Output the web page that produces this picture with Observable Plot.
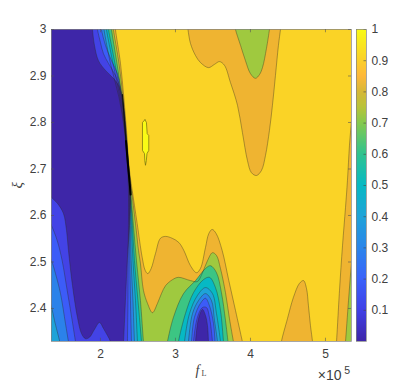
<!DOCTYPE html>
<html><head><meta charset="utf-8">
<script src="https://cdn.jsdelivr.net/npm/d3@7"></script>
<script src="https://cdn.jsdelivr.net/npm/@observablehq/plot@0.6"></script>
<style>
html,body{margin:0;padding:0;background:#fff}
#wrap{position:relative;width:418px;height:383px;overflow:hidden}
#wrap svg{position:absolute;top:0;background:transparent}
</style></head><body><div id="wrap"></div>
<script>
// Contour boundaries, as [fL (×10^5), xi]
const lt90Front=[[2.197,3.01],[2.2,3],[2.267,2.927],[2.311,2.854],[2.347,2.783],[2.377,2.712],[2.409,2.669],[2.423,2.654],[2.489,2.583],[2.556,2.51],[2.596,2.482],[2.631,2.475],[2.676,2.486],[2.733,2.518],[2.8,2.551],[2.867,2.555],[2.956,2.551],[3.044,2.542],[3.111,2.525],[3.2,2.492],[3.28,2.477],[3.333,2.486],[3.4,2.531],[3.444,2.561],[3.489,2.57],[3.543,2.561],[3.622,2.525],[3.711,2.46],[3.8,2.396],[3.889,2.331],[3.907,2.318]];
const lt80Front=[[2.168,3.01],[2.173,3],[2.247,2.927],[2.3,2.854],[2.34,2.783],[2.373,2.712],[2.4,2.669],[2.413,2.654],[2.467,2.583],[2.507,2.525],[2.533,2.497],[2.573,2.439],[2.627,2.411],[2.693,2.391],[2.76,2.411],[2.813,2.432],[2.867,2.449],[2.96,2.462],[3.04,2.467],[3.2,2.46],[3.293,2.458],[3.36,2.477],[3.427,2.503],[3.493,2.52],[3.547,2.514],[3.6,2.486],[3.667,2.434],[3.72,2.378],[3.773,2.329],[3.787,2.318]];
const lt70Front=[[2.14,3.01],[2.147,3],[2.22,2.927],[2.287,2.854],[2.333,2.783],[2.369,2.712],[2.393,2.669],[2.407,2.643],[2.44,2.578],[2.48,2.503],[2.533,2.417],[2.573,2.329],[2.58,2.318]];
const lt60Front=[[2.1,3.01],[2.107,3],[2.193,2.927],[2.273,2.854],[2.329,2.783],[2.367,2.712],[2.391,2.669],[2.4,2.643],[2.427,2.578],[2.453,2.503],[2.5,2.417],[2.547,2.329],[2.552,2.318]];
const lt50Front=[[2.073,3.01],[2.08,3],[2.167,2.927],[2.26,2.854],[2.324,2.783],[2.363,2.712],[2.387,2.669],[2.396,2.643],[2.413,2.578],[2.433,2.503],[2.467,2.417],[2.493,2.329],[2.498,2.318]];
const lt40Front=[[2.04,3.01],[2.047,3],[2.133,2.927],[2.247,2.854],[2.32,2.783],[2.36,2.712],[2.383,2.669],[2.392,2.643],[2.4,2.578],[2.409,2.503],[2.433,2.417],[2.453,2.329],[2.457,2.318]];
const lt30Front=[[2.007,3.01],[2.013,3],[2.067,2.966],[2.147,2.933],[2.227,2.905],[2.267,2.875],[2.307,2.837],[2.34,2.772],[2.367,2.708],[2.383,2.654],[2.387,2.578],[2.391,2.503],[2.4,2.417],[2.413,2.329],[2.415,2.318]];
const lt20Front=[[1.955,3.01],[1.96,3],[2,2.972],[2.04,2.948],[2.107,2.927],[2.2,2.901],[2.26,2.875],[2.3,2.837],[2.333,2.772],[2.36,2.708],[2.373,2.654],[2.373,2.578],[2.369,2.503],[2.367,2.417],[2.36,2.329],[2.36,2.318]];
const lt10Front=[[1.887,3.01],[1.893,3],[1.92,2.966],[1.973,2.933],[2.067,2.912],[2.173,2.895],[2.24,2.88],[2.28,2.858],[2.32,2.815],[2.353,2.751],[2.38,2.697],[2.4,2.643],[2.387,2.578],[2.36,2.51],[2.333,2.417],[2.307,2.329],[2.3,2.318]];
const mergedUpper=[[2.293,2.86],[2.322,2.8],[2.34,2.76]];
const mergedLower=[[2.34,2.76],[2.365,2.712],[2.39,2.669],[2.402,2.645]];

const lt10Left=[[1.293,2.654],[1.347,2.639],[1.427,2.626],[1.507,2.604],[1.547,2.568],[1.573,2.525],[1.627,2.449],[1.693,2.381],[1.747,2.346],[1.8,2.335],[1.853,2.338],[1.92,2.355],[1.987,2.37],[2.04,2.357],[2.093,2.342],[2.133,2.329],[2.147,2.318]];
const lt20Left=[[1.293,2.594],[1.347,2.578],[1.423,2.546],[1.489,2.503],[1.556,2.439],[1.623,2.374],[1.667,2.329],[1.68,2.318]];
const lt30Left=[[1.293,2.52],[1.347,2.503],[1.4,2.475],[1.467,2.432],[1.533,2.368],[1.573,2.329],[1.587,2.318]];
const lt40Left=[[1.293,2.428],[1.347,2.403],[1.387,2.374],[1.457,2.329],[1.473,2.318]];

const lt70Well=[[2.88,2.318],[2.893,2.329],[2.973,2.381],[3.107,2.432],[3.267,2.46],[3.4,2.486],[3.467,2.492],[3.547,2.477],[3.613,2.434],[3.667,2.374],[3.7,2.329],[3.707,2.318]];
const lt60Well=[[3.031,2.318],[3.04,2.329],[3.133,2.389],[3.24,2.434],[3.373,2.462],[3.453,2.467],[3.533,2.445],[3.6,2.396],[3.64,2.329],[3.647,2.318]];
const lt50Well=[[3.113,2.318],[3.12,2.329],[3.187,2.389],[3.293,2.428],[3.4,2.445],[3.493,2.432],[3.547,2.389],[3.6,2.329],[3.607,2.318]];
const lt40Well=[[3.167,2.318],[3.173,2.329],[3.227,2.389],[3.307,2.417],[3.4,2.432],[3.48,2.417],[3.52,2.374],[3.56,2.329],[3.565,2.318]];
const lt30Well=[[3.208,2.318],[3.213,2.329],[3.253,2.381],[3.333,2.411],[3.4,2.422],[3.453,2.406],[3.507,2.368],[3.527,2.329],[3.53,2.318]];
const lt20Well=[[3.235,2.318],[3.24,2.329],[3.293,2.381],[3.36,2.402],[3.413,2.402],[3.453,2.381],[3.493,2.329],[3.497,2.318]];
const lt10Well=[[3.263,2.318],[3.267,2.329],[3.307,2.378],[3.36,2.398],[3.4,2.385],[3.427,2.363],[3.44,2.329],[3.443,2.318]];

const lt90Top=[[3.16,3.01],[3.167,3],[3.2,2.97],[3.267,2.944],[3.333,2.929],[3.44,2.918],[3.52,2.925],[3.587,2.931],[3.653,2.923],[3.733,2.886],[3.827,2.837],[3.893,2.778],[3.96,2.718],[4.013,2.692],[4.08,2.686],[4.147,2.697],[4.2,2.729],[4.253,2.783],[4.293,2.837],[4.333,2.901],[4.373,2.966],[4.4,3],[4.407,3.01]];
const lt80Top=[[3.79,3.01],[3.8,3],[3.867,2.966],[3.933,2.933],[4,2.905],[4.067,2.895],[4.12,2.903],[4.16,2.918],[4.213,2.959],[4.253,3],[4.26,3.01]];
const lt90Mound=[[4.407,2.318],[4.413,2.329],[4.493,2.378],[4.573,2.424],[4.653,2.454],[4.707,2.46],[4.747,2.443],[4.773,2.406],[4.8,2.363],[4.827,2.329],[4.833,2.318]];
const lt90Right=[[5.14,2.318],[5.147,2.329],[5.187,2.439],[5.227,2.535],[5.267,2.617],[5.293,2.675],[5.32,2.751],[5.347,2.804],[5.373,2.858]];
const lt80Right=[[5.26,2.318],[5.267,2.329],[5.307,2.417],[5.347,2.499],[5.373,2.546]];
const gt100Patch=[[2.593,2.806],[2.613,2.8],[2.623,2.776],[2.644,2.772],[2.644,2.74],[2.62,2.733],[2.611,2.718],[2.6,2.708],[2.591,2.718],[2.587,2.733],[2.56,2.74],[2.56,2.8],[2.593,2.806]];

const topLeft=[[1.3,3.02]], bottomLeft=[[1.3,2.3]], rightEdge=[[5.4,2.3]];
const bandColors={l0:"#3e26a8",l1:"#4343e6",l2:"#3c5cf8",l3:"#2b82ea",l4:"#1ea3d8",l5:"#06b9c4",l6:"#3cc583",l7:"#9fc93f",l8:"#efb431",l9:"#fad326",l10:"#f9fb15"};
const xTicks=[2,3,4,5], yTicks=[2.4,2.5,2.6,2.7,2.8,2.9,3];
const barTicks=[0.1,0.2,0.3,0.4,0.5,0.6,0.7,0.8,0.9,1];
const barStops=[0,0.1,0.2,0.3,0.4,0.5,0.6,0.7,0.75,0.8,0.85,0.9,1];
const barColors=["#3e26a8","#4040e6","#3a62fa","#2a85ea","#1fa3d8","#07b9c3","#2fc38f","#85c94e","#b8c33a","#d6b838","#feb83a","#fad02a","#f9fb15"];

const X=d=>d[0],Y=d=>d[1];
const fillBand=(c,pts)=>Plot.line(pts,{x:X,y:Y,fill:c,stroke:"none",curve:"catmull-rom",clip:true});
const contour=(pts,w=0.5)=>Plot.line(pts,{x:X,y:Y,stroke:"#2a2a20",strokeWidth:w,strokeOpacity:0.75,curve:"catmull-rom",clip:true});
const rev=a=>a.slice().reverse();
const C=bandColors;
const regions=[
 [C.l8,[...topLeft,...lt90Front,...bottomLeft]],
 [C.l8,lt90Top],[C.l8,lt90Mound],[C.l8,[...lt90Right,[5.4,2.858],...rightEdge]],
 [C.l7,[...topLeft,...lt80Front,...bottomLeft]],
 [C.l7,lt80Top],[C.l7,[...lt80Right,[5.4,2.546],...rightEdge]],
 [C.l6,[...topLeft,...lt70Front,...bottomLeft]],[C.l6,lt70Well],
 [C.l5,[...topLeft,...lt60Front,...bottomLeft]],[C.l5,lt60Well],
 [C.l4,[...topLeft,...lt50Front,...bottomLeft]],[C.l4,lt50Well],
 [C.l3,[...topLeft,...lt40Front,...rev(lt40Left)]],[C.l3,lt40Well],
 [C.l2,[...topLeft,...lt30Front,...rev(lt30Left)]],[C.l2,lt30Well],
 [C.l1,[...topLeft,...lt20Front,...rev(lt20Left)]],[C.l1,lt20Well],
 [C.l0,[...topLeft,...lt10Front,...rev(lt10Left)]],[C.l0,lt10Well]
];
const lines=[lt90Front,lt80Front,lt70Front,lt60Front,lt50Front,lt40Front,lt30Front,lt20Front,lt10Front,lt10Left,lt20Left,lt30Left,lt40Left,lt70Well,lt60Well,lt50Well,lt40Well,lt30Well,lt20Well,lt10Well,lt90Top,lt80Top,lt90Mound,lt90Right,lt80Right];

const sans="Liberation Sans", serif="Liberation Serif", ink="#404040";
const xd=[1.347,5.347], yd=[2.329,3];
const main=Plot.plot({
 width:418,height:383,marginLeft:51,marginRight:67,marginTop:29,marginBottom:42,
 style:{background:"transparent",fontFamily:sans,fontSize:"12px",color:ink},
 x:{domain:xd,axis:null},y:{domain:yd,axis:null},
 marks:[
  Plot.rect([0],{x1:xd[0],x2:xd[1],y1:yd[0],y2:yd[1],fill:C.l9}),
  ...regions.map(([c,p])=>fillBand(c,p)),
  Plot.line(gt100Patch,{x:X,y:Y,fill:C.l10,stroke:"#6f6a10",strokeWidth:0.7}),
  ...lines.map(l=>contour(l)),
  Plot.line(mergedUpper,{x:X,y:Y,stroke:"#111",strokeWidth:1.1,curve:"catmull-rom"}),
  Plot.line(mergedLower,{x:X,y:Y,stroke:"#000",strokeWidth:2,curve:"catmull-rom"}),
  Plot.frame({stroke:"#808080",strokeWidth:0.7}),
  Plot.ruleX(xTicks,{y1:yd[0],y2:yd[0]+0.007,stroke:"#555",strokeWidth:0.6}),
  Plot.ruleX(xTicks,{y1:yd[1]-0.007,y2:yd[1],stroke:"#555",strokeWidth:0.6}),
  Plot.ruleY(yTicks,{x1:xd[0],x2:xd[0]+0.04,stroke:"#555",strokeWidth:0.6}),
  Plot.ruleY(yTicks,{x1:xd[1]-0.04,x2:xd[1],stroke:"#555",strokeWidth:0.6}),
  Plot.axisX({ticks:xTicks,tickSize:0,tickPadding:8,label:null,tickFormat:d=>String(d),fontSize:12,fill:ink}),
  Plot.axisY({ticks:yTicks,tickSize:0,tickPadding:5,label:null,tickFormat:d=>String(d),fontSize:12,fill:ink}),
  Plot.text(["f"],{frameAnchor:"bottom",lineAnchor:"bottom",dx:-4,dy:33,text:d=>d,fontFamily:serif,fontStyle:"italic",fontSize:14,fill:ink}),
  Plot.text(["L"],{frameAnchor:"bottom",lineAnchor:"bottom",dx:2.5,dy:34.5,text:d=>d,fontFamily:serif,fontSize:8,fill:ink}),
  Plot.text(["ξ"],{frameAnchor:"left",dx:-34.5,dy:3,text:d=>d,rotate:-90,fontFamily:serif,fontStyle:"italic",fontSize:15,fill:ink}),
  Plot.text(["×10"],{frameAnchor:"bottom-right",lineAnchor:"bottom",dx:-10,dy:38,text:d=>d,textAnchor:"end",fontFamily:sans,fontSize:14,fill:ink}),
  Plot.text(["5"],{frameAnchor:"bottom-right",lineAnchor:"bottom",dx:-1.5,dy:32,text:d=>d,textAnchor:"end",fontFamily:sans,fontSize:10.5,fill:ink})
 ]
});
main.style.left="0px";

const steps=d3.range(0,1,1/312);
const bar=Plot.plot({
 width:62,height:383,marginLeft:0,marginRight:52,marginTop:29,marginBottom:42,
 style:{background:"transparent",fontFamily:sans,fontSize:"12px",color:ink},
 x:{domain:[0,1],axis:null},y:{domain:[0,1],axis:null},
 color:{type:"linear",domain:barStops,range:barColors},
 marks:[
  Plot.rect(steps,{x1:0,x2:1,y1:d=>d,y2:d=>d+1/312,fill:d=>d+0.5/312,shapeRendering:"crispEdges"}),
  Plot.ruleY(barTicks,{x1:0.75,x2:1,stroke:"#444",strokeWidth:0.6}),
  Plot.frame({stroke:"#808080",strokeWidth:0.7}),
  Plot.axisY({anchor:"right",ticks:barTicks,tickSize:0,tickPadding:5,label:null,tickFormat:d=>String(d),fontSize:12,fill:ink})
 ]
});
bar.style.left="356px";
const w=document.getElementById("wrap");
w.appendChild(main);w.appendChild(bar);
</script></body></html>
